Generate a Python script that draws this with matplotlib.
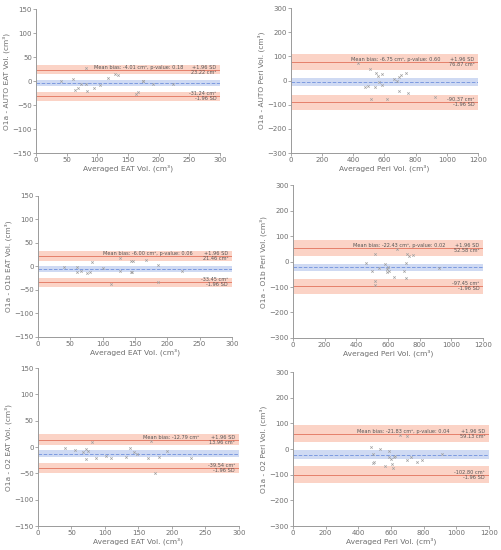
import matplotlib
matplotlib.use("Agg")
import matplotlib.pyplot as plt

# ---- data ----
eat_auto_x = [41, 61, 63, 69, 73, 81.5, 82.6, 81.5, 95, 104, 118, 129, 134, 163, 167, 174, 174, 191, 223]
eat_auto_y = [0, 4, -18, -14, -6, -7, -21, 27, -15, -9, 7, 14, 12, -28, -23, 1, -1, -6, -6]
eat_auto_stats = [-4.01, 23.22, -31.24]
eat_auto_ci = [(-11, 3), (14, 33), (-22, -41)]

peri_auto_x = [433, 504, 546, 557, 583, 566, 583, 476, 491, 536, 512, 615, 664, 679, 690, 705, 690, 739, 750, 926]
peri_auto_y = [72, 49, 33, 19, 28, -8, -18, -28, -22, -25, -78, -78, 8, -4, 14, 22, -42, 33, -53, -69]
peri_auto_stats = [-6.75, 76.87, -90.37]
peri_auto_ci = [(-22, 9), (43, 108), (-60, -124)]

eat_o1b_x = [40, 60.5, 60.5, 67, 76, 81, 83, 100, 113, 127, 127, 144, 147, 144, 146, 167, 186, 186, 222]
eat_o1b_y = [-2, -1, -11, -10, -13, -11, 9, -3, -38, 18, -10, 11, 11, -11, -11, 13, 3, -32, -10]
eat_o1b_stats = [-6.00, 21.46, -33.45]
eat_o1b_ci = [(-12, 1), (12, 32), (-24, -44)]

peri_o1b_x = [463, 499, 520, 520, 520, 541, 583, 594, 600, 594, 606, 636, 657, 699, 714, 714, 720, 731, 758, 920]
peri_o1b_y = [-5, -37, 28, -76, -93, -25, -9, -28, -20, -43, -38, -62, 51, -38, -7, -64, 28, 21, 24, -25]
peri_o1b_stats = [-22.43, 52.58, -97.45]
peri_o1b_ci = [(-37, -8), (22, 83), (-67, -127)]

eat_o2_x = [40, 56, 67, 71, 72, 75, 81, 87, 102, 109, 131, 137, 143, 148, 164, 168, 174, 181, 192, 229]
eat_o2_y = [-1, -5, -10, -4, -22, -8, 9, -21, -17, -21, -19, -1, -10, -14, -21, 12, -50, -19, -8, -21]
eat_o2_stats = [-12.79, 13.96, -39.54]
eat_o2_ci = [(-19, -6), (4, 25), (-30, -50)]

peri_o2_x = [476, 490, 490, 496, 535, 561, 588, 588, 598, 608, 612, 617, 622, 653, 700, 698, 724, 759, 792, 914]
peri_o2_y = [8, -18, -54, -49, 0, -67, -8, -33, -38, -58, -74, -31, -26, 54, 49, -41, -31, -49, -44, -18]
peri_o2_stats = [-21.83, 59.13, -102.80]
peri_o2_ci = [(-39, -4), (26, 94), (-67, -131)]

pvals = ["0.18", "0.60", "0.06", "0.02", None, "0.04"]

GREY = '#6e6e6e'


def bland(ax, x, y, stats, ci, pval, ylab, xlab, xmax, ylim, xticks, yticks):
    mean, up, lo = stats
    ax.axhspan(ci[1][0], ci[1][1], color='#fbd3c6', lw=0, zorder=0)
    ax.axhspan(ci[2][0], ci[2][1], color='#fbd3c6', lw=0, zorder=0)
    ax.axhspan(ci[0][0], ci[0][1], color='#cfdaf3', lw=0, zorder=0)
    ax.axhline(up, color='#e5806b', lw=0.7, zorder=1)
    ax.axhline(lo, color='#e5806b', lw=0.7, zorder=1)
    ax.axhline(mean, color='#7d9be0', lw=0.7, ls='--', zorder=1)
    ax.scatter(x, y, marker='x', s=3, color='#a0a0a0', lw=0.5, zorder=2)

    ax.set_xlim(0, xmax)
    ax.set_ylim(ylim)
    ax.set_xticks(xticks)
    ax.set_yticks(yticks)
    for s in ['top', 'right']:
        ax.spines[s].set_visible(False)
    for s in ['left', 'bottom']:
        ax.spines[s].set_color('#9a9a9a')
        ax.spines[s].set_linewidth(0.7)
    ax.tick_params(labelsize=5, colors='#9a9a9a', labelcolor=GREY, length=2, width=0.6, pad=1)
    ax.set_ylabel(ylab, fontsize=5.3, color=GREY, labelpad=2)
    ax.set_xlabel(xlab, fontsize=5.4, color=GREY, labelpad=1)

    tr = ax.get_yaxis_transform()
    fs = 3.6
    txt = 'Mean bias: %.2f cm\u00b3' % mean
    if pval is not None:
        txt += ', p-value: ' + pval
    ax.text(0.80, up, txt, transform=tr, ha='right', va='bottom', fontsize=fs, color='#555555')
    ax.text(0.98, up, '+1.96 SD', transform=tr, ha='right', va='bottom', fontsize=fs, color='#555555')
    ax.text(0.98, up, '%.2f cm\u00b3' % up, transform=tr, ha='right', va='top', fontsize=fs, color='#555555')
    ax.text(0.98, lo, '%.2f cm\u00b3' % lo, transform=tr, ha='right', va='bottom', fontsize=fs, color='#555555')
    ax.text(0.98, lo, '-1.96 SD', transform=tr, ha='right', va='top', fontsize=fs, color='#555555')


fig = plt.figure(figsize=(5.01, 5.5), dpi=100)

eat_ticks = [0, 50, 100, 150, 200, 250, 300]
peri_ticks = [0, 200, 400, 600, 800, 1000, 1200]
eat_yt = [-150, -100, -50, 0, 50, 100, 150]
peri_yt = [-300, -200, -100, 0, 100, 200, 300]

ax1 = fig.add_axes([0.0719, 0.7218, 0.367, 0.2618])
bland(ax1, eat_auto_x, eat_auto_y, eat_auto_stats, eat_auto_ci, pvals[0],
      'O1a - AUTO EAT Vol. (cm\u00b3)', 'Averaged EAT Vol. (cm\u00b3)', 300, (-150, 150), eat_ticks, eat_yt)

ax2 = fig.add_axes([0.5808, 0.7218, 0.3733, 0.2636])
bland(ax2, peri_auto_x, peri_auto_y, peri_auto_stats, peri_auto_ci, pvals[1],
      'O1a - AUTO Peri Vol. (cm\u00b3)', 'Averaged Peri Vol. (cm\u00b3)', 1200, (-300, 300), peri_ticks, peri_yt)

ax3 = fig.add_axes([0.0758, 0.3873, 0.3872, 0.2564])
bland(ax3, eat_o1b_x, eat_o1b_y, eat_o1b_stats, eat_o1b_ci, pvals[2],
      'O1a - O1b EAT Vol. (cm\u00b3)', 'Averaged EAT Vol. (cm\u00b3)', 300, (-150, 150), eat_ticks, eat_yt)

ax4 = fig.add_axes([0.5848, 0.3855, 0.3792, 0.278])
bland(ax4, peri_o1b_x, peri_o1b_y, peri_o1b_stats, peri_o1b_ci, pvals[3],
      'O1a - O1b Peri Vol. (cm\u00b3)', 'Averaged Peri Vol. (cm\u00b3)', 1200, (-300, 300), peri_ticks, peri_yt)

ax5 = fig.add_axes([0.0758, 0.0436, 0.4012, 0.2873])
bland(ax5, eat_o2_x, eat_o2_y, eat_o2_stats, eat_o2_ci, pvals[4],
      'O1a - O2 EAT Vol. (cm\u00b3)', 'Averaged EAT Vol. (cm\u00b3)', 300, (-150, 150), eat_ticks, eat_yt)

ax6 = fig.add_axes([0.5848, 0.0436, 0.3912, 0.28])
bland(ax6, peri_o2_x, peri_o2_y, peri_o2_stats, peri_o2_ci, pvals[5],
      'O1a - O2 Peri Vol. (cm\u00b3)', 'Averaged Peri Vol. (cm\u00b3)', 1200, (-300, 300), peri_ticks, peri_yt)

fig.savefig('out.png', dpi=100)
